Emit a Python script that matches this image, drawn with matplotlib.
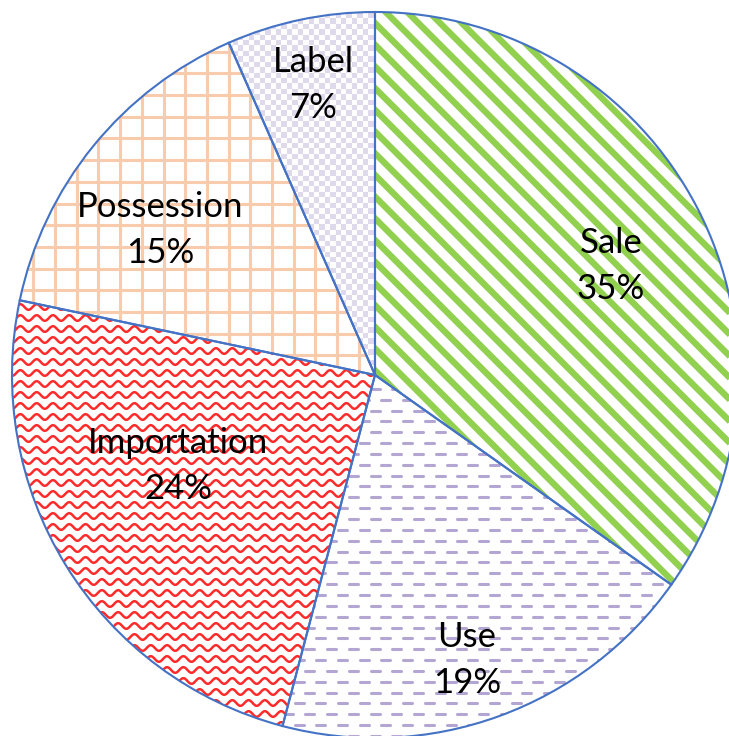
import numpy as np
import matplotlib
matplotlib.use('Agg')
import matplotlib.pyplot as plt
from matplotlib.collections import LineCollection, PolyCollection
from matplotlib.patches import Wedge

# Data (clockwise from 12 o'clock), shares
categories = ['Sale', 'Use', 'Importation', 'Possession', 'Label']
shares = [34.8, 19.3, 24.2, 15.1, 6.6]

# Label anchor points (pixel coords, origin top-left) for name / percent lines
label_pos = [(611, 243), (467, 637), (178, 443), (160, 207), (313, 62)]
line_gap = 46

W, H = 729, 736
CX, CY, R = 375, H - 375, 363
EDGE = '#4472C4'


def stripes(ax, clip, color):
    # diagonal "\" stripes
    segs = []
    for c in np.arange(-800, 1600, 21.7):
        segs.append([(c - 800, 800), (c + 800, -800)])
    lc = LineCollection(segs, colors=color, linewidths=4.6, zorder=2)
    ax.add_collection(lc)
    lc.set_clip_path(clip)


def dashes(ax, clip, color):
    segs = []
    for i, y in enumerate(np.arange(0, H + 20, 10.85)):
        off = 0 if i % 2 == 0 else 10.85
        for x in np.arange(-20 + off, W + 20, 21.7):
            segs.append([(x, y), (x + 9, y)])
    lc = LineCollection(segs, colors=color, linewidths=2.2, capstyle='round', zorder=2)
    ax.add_collection(lc)
    lc.set_clip_path(clip)


def waves(ax, clip, color):
    xs = np.arange(-20, W + 20, 0.5)
    segs = []
    for y in np.arange(0, H + 20, 11.0):
        segs.append(np.column_stack([xs, y + 2.8 * np.sin(2 * np.pi * xs / 16.3)]))
    lc = LineCollection(segs, colors=color, linewidths=1.8, zorder=2)
    ax.add_collection(lc)
    lc.set_clip_path(clip)


def grid(ax, clip, color):
    segs = []
    for v in np.arange(-10, W + 20, 21.7):
        segs.append([(v, -10), (v, H + 10)])
    for v in np.arange(-10, H + 20, 21.7):
        segs.append([(-10, v), (W + 10, v)])
    lc = LineCollection(segs, colors=color, linewidths=2.2, zorder=2)
    ax.add_collection(lc)
    lc.set_clip_path(clip)


def checker(ax, clip, color):
    s = 5.425
    polys = []
    for i, x in enumerate(np.arange(200, 400, s)):
        for j, y in enumerate(np.arange(300, H + 10, s)):
            if (i + j) % 2 == 0:
                polys.append([(x, y), (x + s, y), (x + s, y + s), (x, y + s)])
    pc = PolyCollection(polys, facecolors=color, edgecolors='none', zorder=2)
    ax.add_collection(pc)
    pc.set_clip_path(clip)


fills = [(stripes, '#92D050'), (dashes, '#B3A6D3'), (waves, '#FF2B2B'),
         (grid, '#F8CBAD'), (checker, '#DFDAEB')]

fig = plt.figure(figsize=(W / 100, H / 100), dpi=100)
ax = fig.add_axes([0, 0, 1, 1])

wedges, _ = ax.pie(shares, startangle=90, counterclock=False, center=(CX, CY),
                   radius=R, wedgeprops=dict(facecolor='white', edgecolor='none'))

for w, (fn, col) in zip(wedges, fills):
    fn(ax, w, col)
    ax.add_patch(Wedge(w.center, w.r, w.theta1, w.theta2, fill=False,
                       edgecolor=EDGE, linewidth=1.5, zorder=3))

for cat, val, (px, py) in zip(categories, shares, label_pos):
    ax.text(px, H - py, cat, ha='center', va='center', fontsize=25,
            family='Lato', color='black', zorder=4)
    ax.text(px, H - py - line_gap, f'{val:.0f}%', ha='center', va='center',
            fontsize=25, family='Lato', color='black', zorder=4)

ax.set_xlim(0, W)
ax.set_ylim(0, H)
ax.set_aspect('auto')
ax.axis('off')

fig.savefig('out.png', dpi=100)
